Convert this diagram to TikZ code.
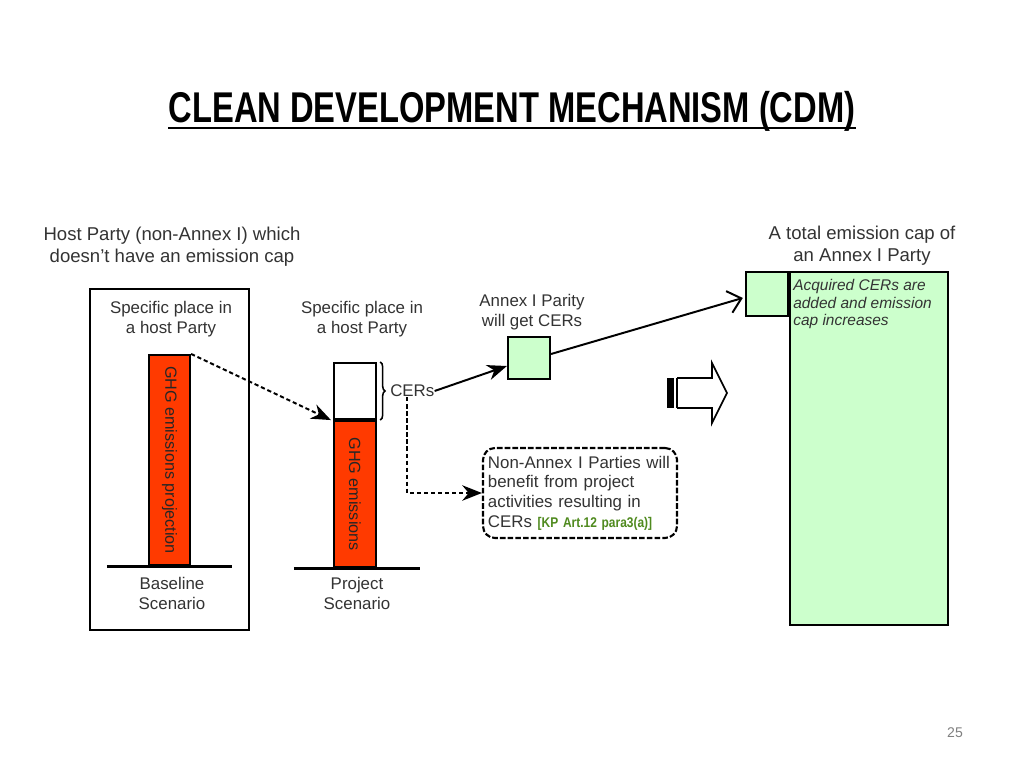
\documentclass[tikz,border=0pt]{standalone}
\usepackage{fontspec}
\setmainfont{Liberation Sans}
\usetikzlibrary{arrows.meta,decorations.pathreplacing}
\definecolor{ghgred}{HTML}{FF3A00}
\definecolor{cergreen}{HTML}{CCFFCC}
\definecolor{txtgray}{HTML}{333333}
\definecolor{refgreen}{HTML}{4F8A1E}
\tikzset{
  box/.style={draw=black, line width=1.5pt, inner sep=0pt},
  lbl/.style={align=center, text=txtgray, inner sep=0pt, font=\fontsize{12}{14.2}\selectfont},
  biglbl/.style={lbl, font=\fontsize{13.2}{15.6}\selectfont},
  barlbl/.style={rotate=-90, inner sep=0pt, text=black!85, font=\fontsize{11.5}{13}\selectfont},
  groundline/.style={line width=2.2pt},
  dasharrow/.style={line width=1.4pt, dash pattern=on 3pt off 2pt, -{Stealth[length=14pt,width=11pt]}},
  solidarrow/.style={line width=1.4pt, -{Stealth[length=14pt,width=11pt]}},
  openarrow/.style={line width=1.4pt, -{Straight Barb[length=9pt,width=16pt,line width=1.4pt]}},
}
\begin{document}
\begin{tikzpicture}[x=0.025cm,y=-0.025cm]
    \fill[white] (0,0) rectangle (1024,768);
    \useasboundingbox (0,0) rectangle (1024,768);
    % title
    \node[anchor=base, inner sep=0pt] (title) at (512,123)
      {\scalebox{0.76}[1]{\fontsize{30.6}{34}\selectfont\bfseries CLEAN DEVELOPMENT MECHANISM (CDM)}};
    \draw[line width=1.6pt] ([yshift=-0.12cm]title.base west) -- ([yshift=-0.12cm]title.base east);
    % host party, baseline
    \node[biglbl] (hostlbl) at (172,247) {Host Party (non-Annex I) which\\doesn't have an emission cap};
    \node[box, minimum width=3.975cm, minimum height=8.525cm] (basebox) at (169.5,459.5) {};
    \node[lbl] (baseplace) at (171,319) {Specific place in\\a host Party};
    \node[box, fill=ghgred, minimum width=1.025cm, minimum height=5.25cm] (basebar) at (169.5,460) {};
    \node[barlbl] (basebartxt) at (basebar.center) {GHG emissions projection};
    \draw[groundline] ([xshift=-1.5625cm]basebar.south) -- ([xshift=1.5625cm]basebar.south);
    \node[lbl] (basescn) at (172,593) {Baseline\\Scenario};
    % project
    \node[lbl] (projplace) at (362,319) {Specific place in\\a host Party};
    \node[box, fill=white, minimum width=1.05cm, minimum height=1.4cm] (cerbar) at (355,391) {};
    \node[box, fill=ghgred, minimum width=1.05cm, minimum height=3.65cm, anchor=north] (projbar) at (cerbar.south) {};
    \node[barlbl] (projbartxt) at (projbar.center) {GHG emissions};
    \draw[groundline] ([xshift=-1.525cm]projbar.south) -- ([xshift=1.625cm]projbar.south);
    \node[lbl] (projscn) at (357,593) {Project\\Scenario};
    \draw[line width=1.1pt, decorate, decoration={brace, amplitude=0.12cm}]
      ([xshift=0.08cm]cerbar.north east) -- ([xshift=0.08cm]cerbar.south east);
    \node[lbl, anchor=west] (cerslbl) at (390,391) {CERs};
    % annex I
    \node[lbl] (annexlbl) at (532,312) {Annex I Parity\\will get CERs};
    \node[box, fill=cergreen, minimum size=1.05cm] (annexsq) at (529,358) {};
    \node[box, dash pattern=on 4pt off 1.5pt, rounded corners=0.3cm, minimum width=4.85cm,
      minimum height=2.25cm, text width=4.6cm, align=left, inner xsep=0.12cm, text=txtgray,
      font=\fontsize{12}{14}\selectfont] (nabox) at (580,493)
      {Non-Annex I Parties will\\benefit from project\\activities resulting in\\CERs \scalebox{0.85}[1]{\color{refgreen}\fontsize{10}{10}\selectfont\bfseries [KP Art.12 para3(a)]}};
    % emission cap
    \node[biglbl] (caplbl) at (862,246) {A total emission cap of\\an Annex I Party};
    \node[box, fill=cergreen, minimum width=3.95cm, minimum height=8.825cm] (capbox) at (869,448.5) {};
    \node[box, fill=cergreen, minimum width=1.05cm, minimum height=1.1cm, anchor=north east] (addbox) at (capbox.north west) {};
    \node[anchor=north west, align=left, inner sep=0pt, text=txtgray,
      font=\itshape\fontsize{11}{12.5}\selectfont] (addlbl) at (793,279) {Acquired CERs are\\added and emission\\cap increases};
    % connectors
    \draw[dasharrow] (basebar.north east) -- ([xshift=-0.05cm]cerbar.south west);
    \draw[dasharrow] ([xshift=-0.125cm]cerslbl.south) |- (nabox.west);
    \draw[solidarrow] (cerslbl.east) -- ([yshift=-0.2cm]annexsq.west);
    \draw[openarrow] ([yshift=0.1cm]annexsq.east) -- ([yshift=-0.1cm,xshift=-0.05cm]addbox.west);
    % block arrow
    \fill (667,378) rectangle (674,408);
    \draw[line width=1pt] (677,378) -- (677,408);
    \draw[line width=1.2pt, line join=miter] (677,378) -- (712,378) -- (712,363) -- (727,393)
      -- (712,423) -- (712,408) -- (677,408);
    % page number
    \node[text=gray, font=\fontsize{10}{12}\selectfont] (pagenum) at (955,733) {25};
\end{tikzpicture}
\end{document}
